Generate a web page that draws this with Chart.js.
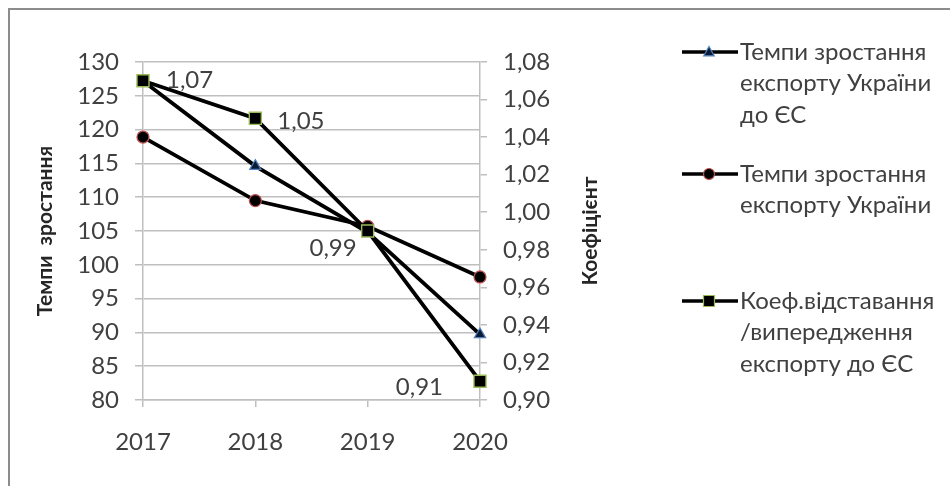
<!DOCTYPE html>
<html>
<head>
<meta charset="utf-8">
<script src="https://cdn.jsdelivr.net/npm/chart.js@4.4.1/dist/chart.umd.min.js"></script>
<style>
  html, body { margin: 0; padding: 0; background: #ffffff; }
  #wrap { position: relative; width: 950px; height: 486px; }
  canvas { display: block; }
</style>
</head>
<body>
<div id="wrap"><canvas id="chart" width="950" height="486"></canvas></div>
<script>
// Роки
const years = ['2017', '2018', '2019', '2020'];

// Темпи зростання експорту України до ЄС, %
const growthEU = [127.2, 114.6, 104.8, 89.7];

// Темпи зростання експорту України, %
const growthTotal = [118.9, 109.5, 105.7, 98.2];

// Коефіцієнт відставання/випередження експорту до ЄС
const coefLag = [1.07, 1.05, 0.99, 0.91];

// Назви рядів (по рядках, як у легенді)
const nameEU = ['Темпи зростання', 'експорту України', 'до ЄС'];
const nameTotal = ['Темпи зростання', 'експорту України'];
const nameCoef = ['Коеф.відставання', '/випередження', 'експорту до ЄС'];

// Підписи осей
const leftTitle = 'Темпи  зростання';
const rightTitle = 'Коефіцієнт';

const FONT = 'Lato, "Open Sans", "Noto Sans", sans-serif';
const TEXT = '#404040';
const GRID = '#bfbfbf';
const FS = 24;

const fmtComma = v => Number(v).toFixed(2).replace('.', ',');

// Рамка області діаграми
const framePlugin = {
  id: 'frame',
  beforeDraw(chart) {
    const ctx = chart.ctx;
    ctx.save();
    ctx.fillStyle = '#ffffff';
    ctx.fillRect(0, 0, chart.width, chart.height);
    ctx.strokeStyle = '#8c8c8c';
    ctx.lineWidth = 2;
    ctx.beginPath();
    ctx.moveTo(9, chart.height);
    ctx.lineTo(9, 9);
    ctx.lineTo(chart.width, 9);
    ctx.stroke();
    ctx.restore();
  }
};

// Назви осей (обидві читаються знизу вгору)
const axisTitlePlugin = {
  id: 'axisTitles',
  afterDraw(chart) {
    const ctx = chart.ctx;
    const a = chart.chartArea;
    const cy = (a.top + a.bottom) / 2;
    [[leftTitle, 45], [rightTitle, 590]].forEach(([txt, x]) => {
      ctx.save();
      ctx.fillStyle = '#262626';
      ctx.font = 'bold 21px ' + FONT;
      ctx.textAlign = 'center';
      ctx.textBaseline = 'middle';
      ctx.translate(x, cy);
      ctx.rotate(-Math.PI / 2);
      ctx.fillText(txt, 0, 0);
      ctx.restore();
    });
  }
};

// Підписи значень коефіцієнта біля маркерів
const labelOffsets = [
  { dx: 23, dy: -1, align: 'left' },
  { dx: 22, dy: 3, align: 'left' },
  { dx: -11, dy: 17, align: 'right' },
  { dx: -37, dy: 6, align: 'right' }
];
const valueLabelPlugin = {
  id: 'valueLabels',
  afterDatasetsDraw(chart) {
    const ctx = chart.ctx;
    const meta = chart.getDatasetMeta(2);
    const data = chart.data.datasets[2].data;
    ctx.save();
    ctx.font = FS + 'px ' + FONT;
    ctx.fillStyle = TEXT;
    ctx.textBaseline = 'middle';
    meta.data.forEach((pt, i) => {
      const o = labelOffsets[i];
      ctx.textAlign = o.align;
      ctx.fillText(fmtComma(data[i]), pt.x + o.dx, pt.y + o.dy);
    });
    ctx.restore();
  }
};

// Легенда праворуч з переносом рядків
function drawMarker(ctx, style, x, y, fill, stroke) {
  ctx.save();
  ctx.fillStyle = fill;
  ctx.strokeStyle = stroke;
  ctx.lineWidth = 1.2;
  ctx.beginPath();
  if (style === 'triangle') {
    const r = 5.5;
    ctx.moveTo(x, y - r);
    ctx.lineTo(x + r * 0.95, y + r * 0.7);
    ctx.lineTo(x - r * 0.95, y + r * 0.7);
    ctx.closePath();
  } else if (style === 'circle') {
    ctx.arc(x, y, 5.5, 0, Math.PI * 2);
  } else {
    ctx.rect(x - 5.5, y - 5.5, 11, 11);
  }
  ctx.fill();
  ctx.stroke();
  ctx.restore();
}
const legendRows = [52, 174, 301];
const legendPlugin = {
  id: 'sideLegend',
  afterDraw(chart) {
    const ctx = chart.ctx;
    chart.data.datasets.forEach((ds, i) => {
      const y = legendRows[i];
      ctx.save();
      ctx.strokeStyle = '#000000';
      ctx.lineWidth = 3.5;
      ctx.beginPath();
      ctx.moveTo(682, y);
      ctx.lineTo(738, y);
      ctx.stroke();
      ctx.restore();
      drawMarker(ctx, ds.pointStyle, 709, y, ds.pointBackgroundColor, ds.pointBorderColor);
      ctx.save();
      ctx.font = FS + 'px ' + FONT;
      ctx.fillStyle = TEXT;
      ctx.textAlign = 'left';
      ctx.textBaseline = 'middle';
      ds.label.forEach((line, k) => ctx.fillText(line, 740, y + k * 31.5));
      ctx.restore();
    });
  }
};

const ctx = document.getElementById('chart').getContext('2d');
new Chart(ctx, {
  type: 'line',
  data: {
    labels: years,
    datasets: [
      {
        label: nameEU,
        data: growthEU,
        yAxisID: 'y',
        borderColor: '#000000',
        borderWidth: 3.8,
        pointStyle: 'triangle',
        pointRadius: 6.5,
        pointBackgroundColor: '#0d1a33',
        pointBorderColor: '#4f81bd',
        pointBorderWidth: 1.2,
        tension: 0,
        clip: false,
        order: 3
      },
      {
        label: nameTotal,
        data: growthTotal,
        yAxisID: 'y',
        borderColor: '#000000',
        borderWidth: 3.8,
        pointStyle: 'circle',
        pointRadius: 6,
        pointBackgroundColor: '#000000',
        pointBorderColor: '#c0504d',
        pointBorderWidth: 1.2,
        tension: 0,
        clip: false,
        order: 2
      },
      {
        label: nameCoef,
        data: coefLag,
        yAxisID: 'y1',
        borderColor: '#000000',
        borderWidth: 3.8,
        pointStyle: 'rect',
        pointRadius: 8.5,
        pointBackgroundColor: '#000000',
        pointBorderColor: '#9bbb59',
        pointBorderWidth: 1.4,
        tension: 0,
        clip: false,
        order: 1
      }
    ]
  },
  options: {
    responsive: false,
    animation: false,
    events: [],
    layout: { padding: { top: 62, left: 10, right: 0, bottom: 0 } },
    plugins: {
      legend: { display: false },
      tooltip: { enabled: false },
      title: { display: false }
    },
    scales: {
      x: {
        type: 'category',
        offset: false,
        grid: {
          display: true,
          drawOnChartArea: false,
          drawTicks: true,
          tickLength: 7,
          color: GRID,
          lineWidth: 1.5
        },
        border: { display: true, color: GRID, width: 1.5 },
        ticks: {
          font: { family: FONT, size: FS },
          color: TEXT,
          padding: 21,
          maxRotation: 0
        },
        afterFit(scale) { scale.height = 86; }
      },
      y: {
        type: 'linear',
        position: 'left',
        min: 80,
        max: 130,
        ticks: {
          stepSize: 5,
          font: { family: FONT, size: FS },
          color: TEXT,
          padding: 16
        },
        grid: {
          color: GRID,
          lineWidth: 1.5,
          drawTicks: true,
          tickLength: 8
        },
        border: { display: true, color: GRID, width: 1.5 },
        afterFit(scale) { scale.width = 133; }
      },
      y1: {
        type: 'linear',
        position: 'right',
        min: 0.9,
        max: 1.08,
        ticks: {
          stepSize: 0.02,
          font: { family: FONT, size: FS },
          color: TEXT,
          padding: 16,
          callback: v => fmtComma(v)
        },
        grid: {
          drawOnChartArea: false,
          color: GRID,
          lineWidth: 1.5,
          drawTicks: true,
          tickLength: 7
        },
        border: { display: true, color: GRID, width: 1.5 },
        afterFit(scale) { scale.width = 470; }
      }
    }
  },
  plugins: [framePlugin, axisTitlePlugin, valueLabelPlugin, legendPlugin]
});
</script>
</body>
</html>
